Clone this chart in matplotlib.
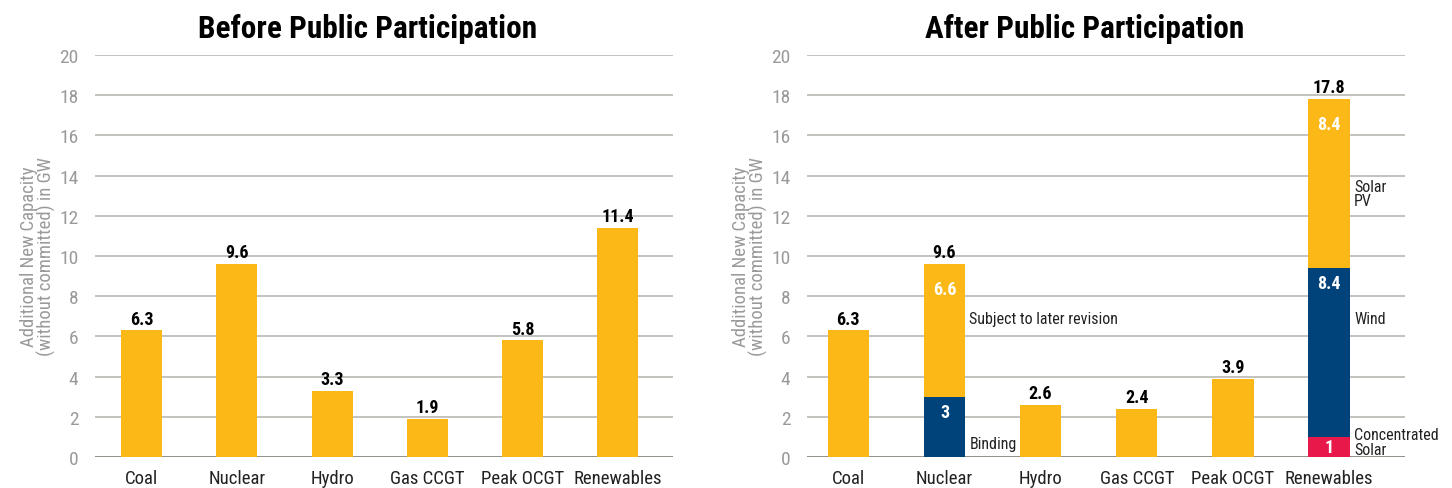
import matplotlib
matplotlib.use("Agg")
import matplotlib.pyplot as plt
import numpy as np

plt.rcParams['font.family'] = ['Roboto Condensed', 'DejaVu Sans']

categories = ["Coal", "Nuclear", "Hydro", "Gas CCGT", "Peak OCGT", "Renewables"]

# before public participation
before = [6.3, 9.6, 3.3, 1.9, 5.8, 11.4]

# after public participation (stacked: bottom, middle, top)
after_bottom = [0, 3.0, 0, 0, 0, 1.0]      # binding / concentrated solar
after_middle = [0, 0, 0, 0, 0, 8.4]        # wind
after_top = [6.3, 6.6, 2.6, 2.4, 3.9, 8.4]  # main / subject to revision / solar PV
after_total = [6.3, 9.6, 2.6, 2.4, 3.9, 17.8]

YELLOW = "#FBB817"
NAVY = "#00427A"
RED = "#E8194A"
GRID = "#B3B3AB"
TICK = "#9A9A9A"

fig = plt.figure(figsize=(14.52, 4.89), dpi=100)
ax1 = fig.add_axes([95/1452, 1-458/489, (673-95)/1452, (458-56)/489])
ax2 = fig.add_axes([807/1452, 1-458/489, (1405-807)/1452, (458-56)/489])


def style(ax, xlim):
    ax.set_ylim(0, 20)
    ax.set_xlim(*xlim)
    ax.set_yticks(np.arange(0, 21, 2))
    ax.yaxis.grid(True, color=GRID, lw=1.1)
    ax.set_axisbelow(True)
    for s in ax.spines.values():
        s.set_visible(False)
    ax.axhline(0, color="#8E8E86", lw=2, zorder=1)
    ax.tick_params(axis="y", length=0, pad=12, labelsize=14, labelcolor=TICK)
    ax.tick_params(axis="x", length=0, pad=9, labelsize=13.5, labelcolor="#222222")
    ax.set_xticks(range(len(categories)))
    ax.set_xticklabels(categories)
    ax.set_ylabel("Additional New Capacity\n(without committed) in GW",
                  color=TICK, fontsize=13.5, labelpad=2, linespacing=0.95)


x = np.arange(len(categories))
w = 0.43

# left chart
style(ax1, (-0.49, 5.58))
ax1.bar(x, before, width=w, color=YELLOW, zorder=2)
for xi, v in zip(x, before):
    ax1.annotate(f"{v}", (xi, v), xytext=(0, 2), textcoords="offset points",
                 ha="center", va="bottom", fontsize=13, fontweight="bold")

# right chart
style(ax2, (-0.43, 5.79))
bottom_colors = [YELLOW, NAVY, YELLOW, YELLOW, YELLOW, RED]
ax2.bar(x, after_bottom, width=w, color=bottom_colors, zorder=2)
ax2.bar(x, after_middle, width=w, bottom=after_bottom, color=NAVY, zorder=2)
mid_top = np.array(after_bottom) + np.array(after_middle)
ax2.bar(x, after_top, width=w, bottom=mid_top, color=YELLOW, zorder=2)
for xi, v in zip(x, after_total):
    ax2.annotate(f"{v}", (xi, v), xytext=(0, 2), textcoords="offset points",
                 ha="center", va="bottom", fontsize=13, fontweight="bold")

# white segment labels
seg = dict(ha="center", va="center", color="white", fontsize=13, fontweight="bold")
ax2.annotate("6.6", (1, after_total[1]), xytext=(0, -18), textcoords="offset points", **seg)
ax2.annotate("3", (1, after_bottom[1]), xytext=(0, -11), textcoords="offset points", **seg)
ax2.annotate("8.4", (5, after_total[5]), xytext=(0, -18), textcoords="offset points", **seg)
ax2.annotate("8.4", (5, mid_top[5]), xytext=(0, -11), textcoords="offset points", **seg)
ax2.text(5, after_bottom[5] / 2, "1", **seg)

# side annotations
side = dict(fontsize=11.5, va="center", color="#222222", linespacing=0.95)
ax2.text(1.26, 6.9, "Subject to later revision", **side)
ax2.text(1.26, 0.65, "Binding", **side)
ax2.text(5.26, 13.1, "Solar\nPV", **side)
ax2.text(5.26, 6.9, "Wind", **side)
ax2.text(5.26, 0.75, "Concentrated\nSolar", **side)

fig.text(368/1452, 1-29/489, "Before Public Participation", ha="center", va="center",
         fontsize=22.5, fontweight="bold")
fig.text(1085/1452, 1-29/489, "After Public Participation", ha="center", va="center",
         fontsize=22.5, fontweight="bold")

fig.savefig("out.png", dpi=100)
